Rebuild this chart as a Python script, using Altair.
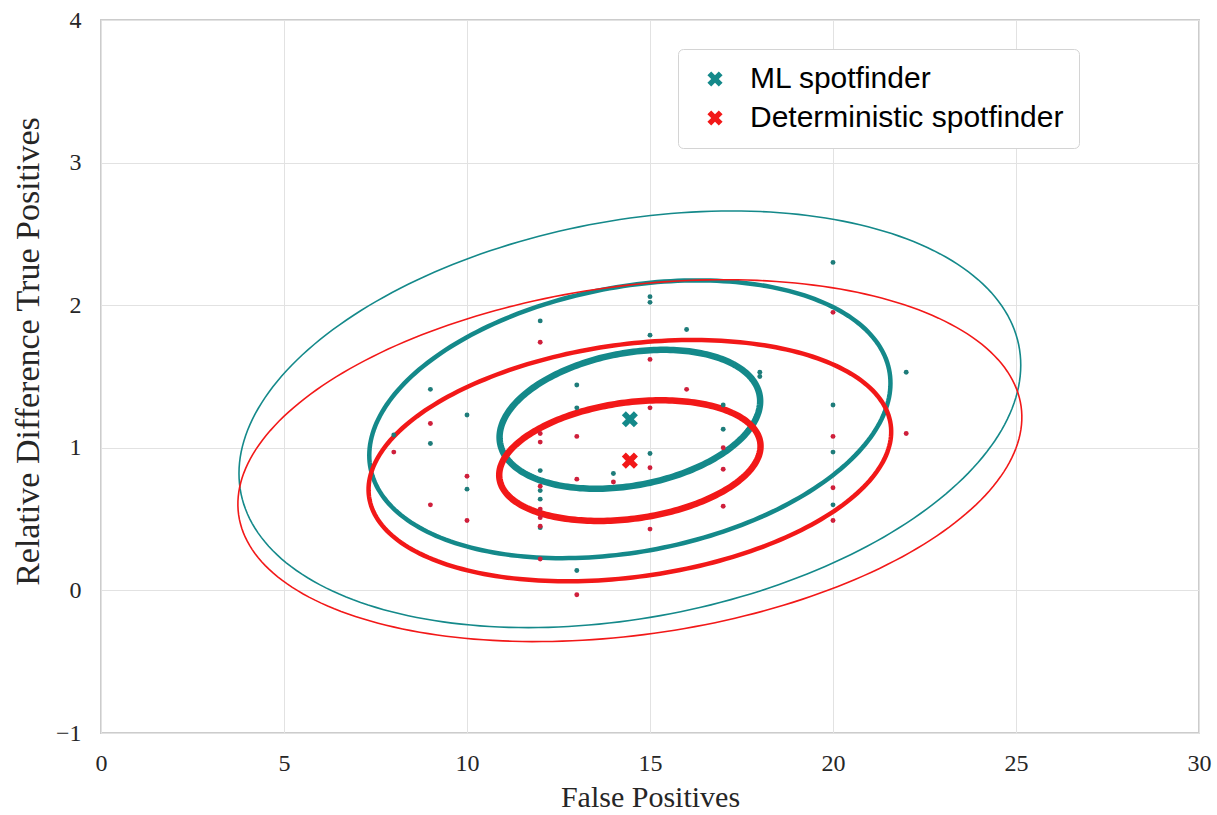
import numpy as np
import pandas as pd
import altair as alt

# ---------------- data ----------------
groups = ["ML spotfinder", "Deterministic spotfinder"]
line_colors = ["#14898a", "#f21818"]
point_colors = ["#1e7c7a", "#cf1f3b"]

ml_fp = [8, 9, 9, 10, 10, 12, 12, 12, 12, 12, 13, 13, 13, 14, 15, 15, 15, 15,
         16, 17, 17, 18, 18, 20, 20, 20, 20, 22]
ml_tp = [1.09, 1.41, 1.03, 1.23, 0.71, 1.89, 0.84, 0.70, 0.64, 0.44, 1.44, 1.28,
         0.14, 0.82, 2.06, 2.02, 1.79, 0.96, 1.83, 1.30, 1.13, 1.53, 1.50, 2.30,
         1.30, 0.97, 0.60, 1.53]
det_fp = [8, 9, 9, 10, 10, 12, 12, 12, 12, 12, 12, 12, 12, 13, 13, 13, 14, 15,
          15, 15, 15, 16, 17, 17, 17, 20, 20, 20, 20, 22]
det_tp = [0.97, 1.17, 0.60, 0.80, 0.49, 1.74, 1.10, 1.04, 0.73, 0.57, 0.51, 0.45,
          0.22, 1.08, 0.78, -0.03, 0.76, 1.62, 1.28, 0.86, 0.43, 1.41, 1.00, 0.85,
          0.59, 1.95, 1.08, 0.72, 0.49, 1.10]

# confidence-ellipse parameters (mean, std, correlation) per group
center_x = [14.45, 14.45]
center_y = [1.20, 0.91]
std_x = [3.56, 3.57]
std_y = [0.487, 0.423]
corr = [0.26, 0.24]
n_std = [1, 2, 3]
n_widths = [6.5, 4.5, 1.6]

x_ticks = [0, 5, 10, 15, 20, 25, 30]
y_ticks = [-1, 0, 1, 2, 3, 4]

# ---------------- tables ----------------
pts = pd.DataFrame({
    "fp": ml_fp + det_fp,
    "tp": ml_tp + det_tp,
    "group": [groups[0]] * len(ml_fp) + [groups[1]] * len(det_fp),
})

cen = pd.DataFrame({"fp": center_x, "tp": center_y, "group": groups})

rows = []
t = np.linspace(0, 2 * np.pi, 241)
for g, mx, my, sx, sy, r in zip(groups, center_x, center_y, std_x, std_y, corr):
    a, b = np.sqrt(1 + r), np.sqrt(1 - r)
    u, v = a * np.cos(t), b * np.sin(t)
    ex, ey = (u - v) / np.sqrt(2), (u + v) / np.sqrt(2)
    for n in n_std:
        for i in range(len(t)):
            rows.append({"fp": mx + n * sx * ex[i], "tp": my + n * sy * ey[i],
                         "group": g, "n": n, "i": i})
ell = pd.DataFrame(rows)

# ---------------- chart ----------------
SERIF = "Liberation Serif"
X_PATH = ("M-0.5,-1L0,-0.5L0.5,-1L1,-0.5L0.5,0L1,0.5L0.5,1L0,0.5"
          "L-0.5,1L-1,0.5L-0.5,0L-1,-0.5Z")

x_enc = alt.X("fp:Q", scale=alt.Scale(domain=[0, 30], nice=False, zero=False),
              axis=alt.Axis(values=x_ticks, title="False Positives", format="d",
                            labelFontSize=24, labelFlush=False,
                            labelPadding=18, titlePadding=7, titleFontSize=30))
y_enc = alt.Y("tp:Q", scale=alt.Scale(domain=[-1, 4], nice=False, zero=False),
              axis=alt.Axis(values=y_ticks, title="Relative Difference True Positives",
                            format="d", labelFontSize=24, labelFlush=False,
                            labelPadding=20, titlePadding=10,
                            titleFontSize=34, titleY=331))

layers = []
for g, col in zip(groups, line_colors):
    for n, w in zip(n_std, n_widths):
        layers.append(
            alt.Chart(ell).transform_filter(
                (alt.datum.group == g) & (alt.datum.n == n)
            ).mark_line(strokeWidth=w, color=col).encode(x=x_enc, y=y_enc, order="i:Q")
        )

for g, col in zip(groups, point_colors):
    layers.append(
        alt.Chart(pts).transform_filter(alt.datum.group == g)
        .mark_circle(size=24, opacity=1, color=col).encode(x=x_enc, y=y_enc)
    )

centers = alt.Chart(cen).mark_point(filled=True, size=260, shape=X_PATH, opacity=1).encode(
    x=x_enc, y=y_enc,
    color=alt.Color("group:N", scale=alt.Scale(domain=groups, range=line_colors),
                    legend=alt.Legend(title=None, orient="none", legendX=577, legendY=29,
                                      symbolType=X_PATH, symbolSize=230,
                                      symbolStrokeWidth=0, symbolOpacity=1,
                                      symbolOffset=7,
                                      labelFont="Liberation Sans", labelFontSize=30,
                                      labelColor="black", labelOffset=20,
                                      labelLimit=800,
                                      rowPadding=9, padding=15,
                                      strokeColor="#d4d4d4", fillColor="white",
                                      cornerRadius=5)),
)
layers.append(centers)

chart = alt.layer(*layers).properties(
    width=1098, height=713,
    autosize=alt.AutoSizeParams(type="none"),
    padding={"left": 101, "top": 20, "right": 18, "bottom": 82},
    background="white",
).configure_view(
    stroke="#cccccc", strokeWidth=2
).configure_axis(
    labelFont=SERIF, labelColor="#262626",
    titleFont=SERIF, titleFontWeight="normal", titleColor="#262626",
    ticks=False, domain=False, grid=True, gridColor="#e2e2e2", gridWidth=1,
)

chart.save("out.html", embed_options={"renderer": "svg", "actions": False})
